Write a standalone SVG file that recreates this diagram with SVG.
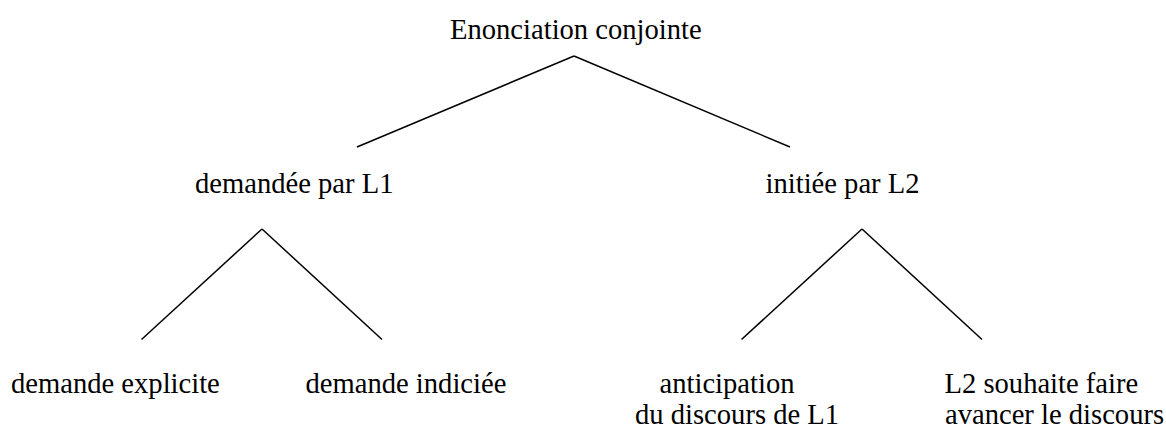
<svg xmlns="http://www.w3.org/2000/svg" width="1166" height="428" viewBox="0 0 1166 428">
<style>
text{font-family:"Liberation Serif","Times New Roman",serif;font-size:28.6px;fill:#000}
.c line{stroke:#000;stroke-width:1.5;stroke-linecap:butt}
</style>
<rect width="1166" height="428" fill="#fff"/>
<g class="c" id="connectors">
<line x1="574" y1="56" x2="357" y2="147"/>
<line x1="574" y1="56" x2="790" y2="147"/>
<line x1="262" y1="229" x2="141.5" y2="339.5"/>
<line x1="262" y1="229" x2="382" y2="339.5"/>
<line x1="862" y1="229" x2="741.5" y2="339.5"/>
<line x1="862" y1="229" x2="982" y2="339.5"/>
</g>
<g id="root"><text x="450" y="39">Enonciation conjointe</text></g>
<g id="n-demandee"><text x="195" y="193">demandée par L1</text></g>
<g id="n-initiee"><text x="765.5" y="193">initiée par L2</text></g>
<g id="n-explicite"><text x="11" y="393">demande explicite</text></g>
<g id="n-indiciee"><text x="305.5" y="393">demande indiciée</text></g>
<g id="n-anticipation"><text x="659.5" y="393">anticipation</text><text x="635" y="424">du discours de L1</text></g>
<g id="n-souhaite"><text x="944.5" y="393">L2 souhaite faire</text><text x="945" y="424">avancer le discours</text></g>
</svg>
